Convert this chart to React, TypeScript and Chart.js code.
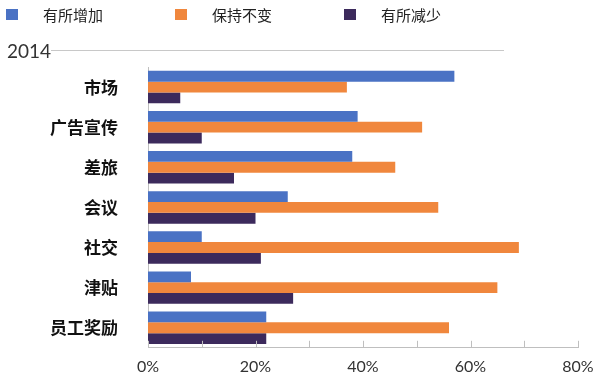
import React, { useEffect, useRef } from "react";
import { Chart, registerables } from "chart.js";

Chart.register(...registerables);

const categories = ["市场", "广告宣传", "差旅", "会议", "社交", "津贴", "员工奖励"];
const increased = [57, 39, 38, 26, 10, 8, 22];
const unchanged = [37, 51, 46, 54, 69, 65, 56];
const decreased = [6, 10, 16, 20, 21, 27, 22];
const seriesNames = ["有所增加", "保持不变", "有所减少"];
const seriesColors = ["#4a72c4", "#f0873d", "#3c2a5c"];
const yearLabel = "2014";
const xMax = 80;
const xLabelStep = 20;
const xMinorStep = 10;

const decorPlugin = {
  id: "decor",
  afterDraw(chart: any) {
    const ctx = chart.ctx;
    ctx.save();
    // legend
    ctx.font = "15px 'Noto Sans CJK SC'";
    ctx.textBaseline = "middle";
    ctx.textAlign = "left";
    seriesNames.forEach((name, i) => {
      const bx = 6 + 169 * i;
      ctx.fillStyle = seriesColors[i];
      ctx.fillRect(bx, 9, 12, 11);
      ctx.fillStyle = "#222";
      ctx.fillText(name, bx + 37, 15);
    });
    // year title + rule
    ctx.font = "19px 'Liberation Sans Narrow', Lato";
    ctx.fillStyle = "#333";
    ctx.fillText(yearLabel, 7, 52);
    ctx.strokeStyle = "#c8c8c8";
    ctx.lineWidth = 1;
    ctx.beginPath();
    ctx.moveTo(51, 50.5);
    ctx.lineTo(504, 50.5);
    ctx.stroke();
    // minor ticks on x axis
    const xs = chart.scales.x;
    const bottom = chart.chartArea.bottom;
    ctx.strokeStyle = "#bfbfbf";
    ctx.beginPath();
    for (let v = 0; v <= xMax; v += xMinorStep) {
      const px = Math.round(xs.getPixelForValue(v)) + 0.5;
      ctx.moveTo(px, bottom - 7);
      ctx.lineTo(px, bottom);
    }
    ctx.stroke();
    ctx.restore();
  },
};

export default function App() {
  const ref = useRef<HTMLCanvasElement | null>(null);
  useEffect(() => {
    if (!ref.current) return;
    const data = [increased, unchanged, decreased];
    const chart = new Chart(ref.current, {
      type: "bar",
      data: {
        labels: categories,
        datasets: seriesNames.map((name, i) => ({
          label: name,
          data: data[i],
          backgroundColor: seriesColors[i],
          barPercentage: 1,
          categoryPercentage: 0.81,
        })),
      },
      options: {
        indexAxis: "y",
        animation: false,
        responsive: false,
        maintainAspectRatio: false,
        layout: { padding: { top: 67, left: 0, right: 22, bottom: 0 } },
        plugins: { legend: { display: false }, tooltip: { enabled: false } },
        scales: {
          x: {
            min: 0,
            max: xMax,
            grid: { display: false, drawTicks: false },
            border: { display: true, color: "#bfbfbf" },
            ticks: {
              stepSize: xLabelStep,
              padding: 9,
              color: "#333",
              font: { family: "Lato", size: 16 },
              callback: (v: any) => v + "%",
            },
            afterFit: (s: any) => {
              s.paddingRight = 0;
              s.paddingLeft = 0;
              s.height = 31;
            },
          },
          y: {
            grid: { display: false },
            border: { display: true, color: "#bfbfbf" },
            ticks: {
              padding: 22,
              color: "#111",
              font: { family: "'Noto Sans CJK SC'", size: 17, weight: "bold" },
            },
            afterFit: (s: any) => {
              s.width = 148;
            },
          },
        },
      },
      plugins: [decorPlugin],
    } as any);
    return () => chart.destroy();
  }, []);
  return (
    <div style={{ position: "fixed", left: 0, top: 0, width: 600, height: 380, background: "#fff" }}>
      <canvas ref={ref} width={600} height={380} />
    </div>
  );
}
